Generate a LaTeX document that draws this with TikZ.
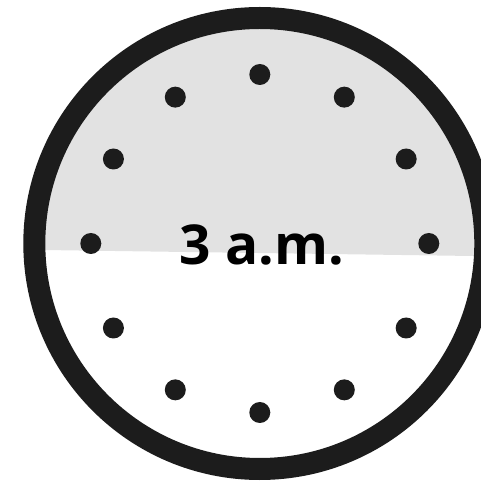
\documentclass[tikz,border=0pt]{standalone}
\usepackage{fontspec}
\setmainfont{Open Sans}
\usepackage{xcolor}
\usepackage{tikz}
\usetikzlibrary{
    positioning,
    calc
}
\definecolor{ringgray}{HTML}{1C1C1C}
\definecolor{nightgray}{HTML}{E2E2E2}
\tikzset{
    ring/.style={
        draw=ringgray,
        line width=22pt
    }
}
\tikzset{
    hourdot/.style={
        circle,
        fill=ringgray,
        inner sep=0pt,
        minimum size=21pt
    }
}
\tikzset{
    timelabel/.style={
        font=\fontsize{55}{62}\selectfont\bfseries,
        text=black,
        inner sep=0pt
    }
}

\begin{document}
\begin{tikzpicture}[
    x=1pt,
    y=1pt
]

\useasboundingbox (0,0) rectangle (480,482);

% ------------------------------------------------------------
% Clock face and night shading
% ------------------------------------------------------------

\coordinate (centre) at (259.8,238.5);

\begin{scope}
    \clip (centre) circle (215);
    \fill[nightgray]
        (0,232.6) -- (480,225.9) -- (480,482) -- (0,482) -- cycle;
\end{scope}

\draw[ring] (centre) circle (225.5);

% ------------------------------------------------------------
% Hour marks
% ------------------------------------------------------------

\foreach \h in {1,...,12}
    \node[hourdot] (dot\h) at ($(centre)+({90-30*\h}:169)$) {};

% ------------------------------------------------------------
% Time
% ------------------------------------------------------------

\node[timelabel, anchor=base] (time) at (262,217) {3 a.m.};

\end{tikzpicture}
\end{document}
